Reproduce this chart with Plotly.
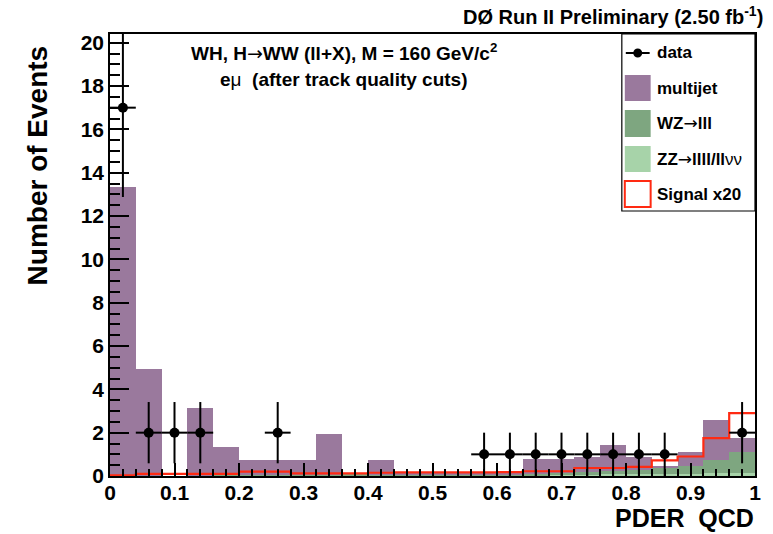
import numpy as np
import plotly.graph_objects as go

# ---------------- data ----------------
bin_edges = np.linspace(0.0, 1.0, 26)          # 25 bins of width 0.04
bin_centers = 0.5 * (bin_edges[:-1] + bin_edges[1:])
bin_width = 0.04

# stacked totals
total_bkg = [13.35, 4.95, 0.0, 3.15, 1.35, 0.72, 0.75, 0.75, 1.93, 0.04,
             0.75, 0.1, 0.1, 0.1, 0.1, 0.12, 0.78, 0.78, 0.86, 1.45,
             0.88, 0.45, 1.1, 2.6, 1.75]
wz = [0.01, 0.01, 0.0, 0.01, 0.02, 0.03, 0.03, 0.03, 0.03, 0.03,
      0.03, 0.04, 0.04, 0.04, 0.05, 0.06, 0.07, 0.1, 0.13, 0.17,
      0.22, 0.27, 0.38, 0.62, 0.95]
zz = [0.01, 0.01, 0.0, 0.01, 0.01, 0.02, 0.02, 0.02, 0.02, 0.02,
      0.02, 0.03, 0.03, 0.03, 0.03, 0.03, 0.03, 0.05, 0.06, 0.07,
      0.08, 0.08, 0.1, 0.12, 0.14]
multijet = [max(t - a - b, 0.0) for t, a, b in zip(total_bkg, wz, zz)]

signal_x20 = [0.03, 0.1, 0.1, 0.1, 0.1, 0.2, 0.2, 0.12, 0.12, 0.12,
              0.15, 0.17, 0.17, 0.17, 0.17, 0.18, 0.22, 0.22, 0.37, 0.37,
              0.42, 0.72, 0.9, 1.75, 2.9]

data = [17, 2, 2, 2, 0, 0, 2, 0, 0, 0,
        0, 0, 0, 0, 1, 1, 1, 1, 1, 1,
        1, 1, 0, 0, 2]

x_ticks = [0, 0.1, 0.2, 0.3, 0.4, 0.5, 0.6, 0.7, 0.8, 0.9, 1]
y_ticks = [0, 2, 4, 6, 8, 10, 12, 14, 16, 18, 20]

# ---------------- style ----------------
C_MJ = "#9a799d"
C_WZ = "#7ea680"
C_ZZ = "#a7d3a9"
C_SIG = "#ff2a12"
FONT = "Liberation Sans, Arial, Helvetica, sans-serif"
ARROW = '<span style="font-family:DejaVu Sans;font-weight:normal">→</span>'
SYM = '<span style="font-weight:normal">{}</span>'

fig = go.Figure()

for name, vals, col in [("ZZ", zz, C_ZZ), ("WZ", wz, C_WZ), ("multijet", multijet, C_MJ)]:
    fig.add_trace(go.Bar(x=bin_centers, y=vals, width=[bin_width] * 25,
                         marker=dict(color=col, line=dict(width=0)),
                         name=name, showlegend=False, hoverinfo="skip"))

# signal step histogram
fig.add_trace(go.Scatter(x=list(bin_edges), y=signal_x20 + [signal_x20[-1]],
                         mode="lines", line=dict(color=C_SIG, width=2.2, shape="hv"),
                         showlegend=False, hoverinfo="skip"))

# data points (non-empty bins only)
dx = [c for c, d in zip(bin_centers, data) if d > 0]
dy = [d for d in data if d > 0]
fig.add_trace(go.Scatter(x=dx, y=dy, mode="markers",
                         marker=dict(color="black", size=10),
                         error_y=dict(type="data", array=list(np.sqrt(dy)), color="black",
                                      thickness=2, width=0),
                         error_x=dict(type="data", array=[bin_width / 2] * len(dx), color="black",
                                      thickness=2, width=0),
                         showlegend=False, hoverinfo="skip"))

# ---------------- layout ----------------
L, R, T, B = 110, 14, 34, 58
W, H = 773, 534
PW, PH = W - L - R, H - T - B


def px(x):
    return (x - L) / PW


def py(y):
    return (H - B - y) / PH


shapes = []
annotations = []

# legend box
shapes.append(dict(type="rect", xref="paper", yref="paper", x0=px(625), x1=px(759),
                   y0=py(211), y1=py(34), fillcolor="white", line=dict(color="black", width=1.2),
                   layer="above"))
# data symbol
shapes.append(dict(type="line", xref="paper", yref="paper", x0=px(629), x1=px(653),
                   y0=py(53), y1=py(53), line=dict(color="black", width=2), layer="above"))
shapes.append(dict(type="circle", xref="paper", yref="paper", x0=px(636.5), x1=px(645.5),
                   y0=py(57.5), y1=py(48.5), fillcolor="black", line=dict(color="black", width=0),
                   layer="above"))
legend_rows = [("multijet", C_MJ, 75, 101, None),
               ("WZ" + ARROW + "lll", C_WZ, 110, 137, None),
               ("ZZ" + ARROW + "llll/ll" + SYM.format("νν"), C_ZZ, 146, 172, None),
               ("Signal x20", "white", 181, 207, C_SIG)]
for label, col, ytop, ybot, edge in legend_rows:
    shapes.append(dict(type="rect", xref="paper", yref="paper", x0=px(628), x1=px(654),
                       y0=py(ybot), y1=py(ytop), fillcolor=col,
                       line=dict(color=edge if edge else col, width=2 if edge else 0),
                       layer="above"))
    annotations.append(dict(text=label, xref="paper", yref="paper", x=px(658), y=py((ytop + ybot) / 2),
                            xanchor="left", yanchor="middle", showarrow=False,
                            font=dict(family=FONT, size=17, color="black", weight="bold")))
annotations.append(dict(text="data", xref="paper", yref="paper", x=px(658), y=py(53),
                        xanchor="left", yanchor="middle", showarrow=False,
                        font=dict(family=FONT, size=17, color="black", weight="bold")))

# titles and texts
annotations.append(dict(text="DØ Run II Preliminary (2.50 fb<sup>-1</sup>)", xref="paper", yref="paper",
                        x=px(769), y=py(16), xanchor="right", yanchor="middle", showarrow=False,
                        font=dict(family=FONT, size=20, color="black", weight="bold")))
annotations.append(dict(text="WH, H" + ARROW + "WW (ll+X), M = 160 GeV/c<sup>2</sup>", xref="paper", yref="paper",
                        x=px(345), y=py(52), xanchor="center", yanchor="middle", showarrow=False,
                        font=dict(family=FONT, size=19, color="black", weight="bold")))
annotations.append(dict(text="e" + SYM.format("μ") + "  (after track quality cuts)", xref="paper", yref="paper",
                        x=px(345), y=py(80), xanchor="center", yanchor="middle", showarrow=False,
                        font=dict(family=FONT, size=19, color="black", weight="bold")))
annotations.append(dict(text="PDER  QCD", xref="paper", yref="paper",
                        x=px(760), y=py(534), xanchor="right", yanchor="bottom", showarrow=False,
                        font=dict(family=FONT, size=25, color="black", weight="bold")))
annotations.append(dict(text="Number of Events", xref="paper", yref="paper",
                        x=px(38), y=py(165), xanchor="center", yanchor="middle", showarrow=False,
                        textangle=-90,
                        font=dict(family=FONT, size=28, color="black", weight="bold")))

fig.update_layout(
    width=W, height=H,
    margin=dict(l=L, r=R, t=T, b=B, pad=0),
    paper_bgcolor="white", plot_bgcolor="white",
    barmode="stack", bargap=0,
    showlegend=False,
    shapes=shapes, annotations=annotations,
    xaxis=dict(range=[0, 1], tickvals=x_ticks, ticktext=[f"{v:g}" for v in x_ticks],
               ticks="inside", ticklen=13, tickwidth=1.5, tickcolor="black",
               ticklabelstandoff=-3,
               minor=dict(dtick=0.02, tick0=0, ticks="inside", ticklen=7, tickwidth=1.5, tickcolor="black"),
               showline=True, linecolor="black", linewidth=1.5, mirror=True,
               showgrid=False, zeroline=False,
               tickfont=dict(family=FONT, size=21, color="black", weight="bold")),
    yaxis=dict(range=[0, 20.4], tickvals=y_ticks,
               ticks="inside", ticklen=19, tickwidth=1.5, tickcolor="black",
               minor=dict(dtick=0.5, tick0=0, ticks="inside", ticklen=10, tickwidth=1.5, tickcolor="black"),
               showline=True, linecolor="black", linewidth=1.5, mirror=True,
               showgrid=False, zeroline=False,
               tickfont=dict(family=FONT, size=21, color="black", weight="bold")),
)

fig.write_html("out.html")
